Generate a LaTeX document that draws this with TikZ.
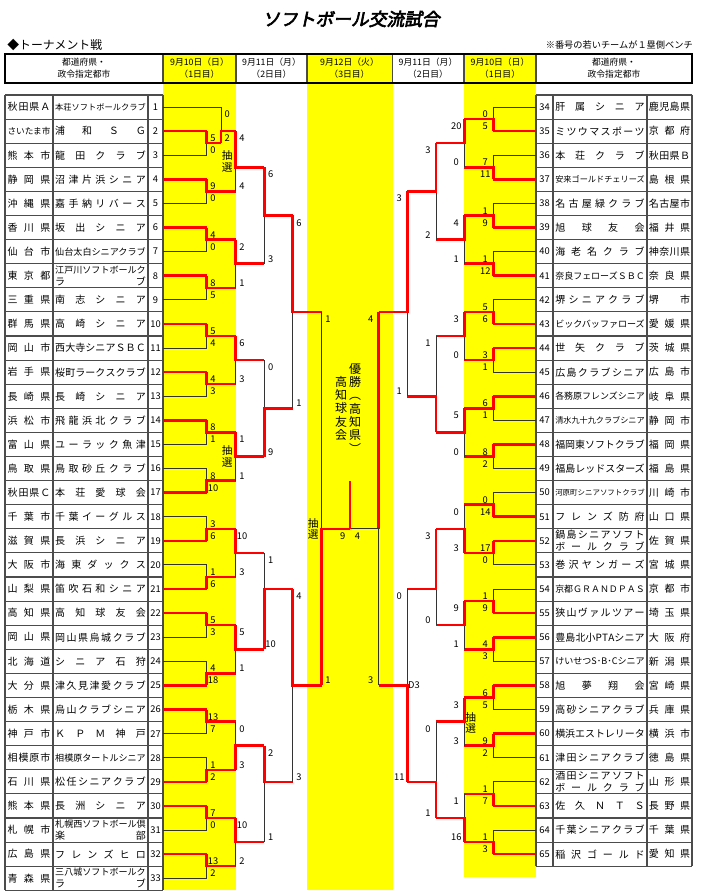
\documentclass[tikz,border=0pt]{standalone}
\usepackage{fontspec}
\usepackage{tikz}
\setmainfont{Noto Sans CJK JP}
\newfontfamily\titlefont[FakeSlant=0.2,FakeBold=3.5]{Noto Sans CJK JP}

\definecolor{dayyellow}{RGB}{255,255,0}
\definecolor{winred}{RGB}{255,0,0}

% spread a cell text over the cell (shrink it when too long)
\ExplSyntaxOn
\box_new:N \l__cell_box
\cs_new_protected:Npn \__cell_spread:nn #1#2
  {
    \hbox_set:Nn \l__cell_box {#2}
    \dim_compare:nNnTF { \box_wd:N \l__cell_box } > {#1}
      {
        \box_resize_to_wd:Nn \l__cell_box {#1}
        \box_use:N \l__cell_box
      }
      {
        \hbox_to_wd:nn {#1}
          { \skip_horizontal:n { 0pt plus -1fil } \tl_map_inline:nn {#2} { \hfil ##1 } }
      }
  }
\cs_generate_variant:Nn \__cell_spread:nn { ne }
\NewDocumentCommand \cellfit { m m m }
  {
    \str_if_eq:eeTF {#3} { - }
      { \__cell_spread:ne {#1} {#2} }
      {
        \vbox:n
          {
            \skip_set:Nn \baselineskip { 9pt }
            \dim_set:Nn \lineskiplimit { -20pt }
            \hbox:n { \__cell_spread:ne {#1} {#2} }
            \hbox:n { \__cell_spread:ne {#1} {#3} }
          }
      }
  }
\ExplSyntaxOff

% bracket columns (x in px)
\newcommand\xLa{206.7}
\newcommand\xLo{221}
\newcommand\xLb{235.7}
\newcommand\xLc{264.3}
\newcommand\xLd{292.7}
\newcommand\xLe{321.7}
\newcommand\xFin{350}
\newcommand\xRe{378.7}
\newcommand\xRd{407.3}
\newcommand\xRc{436}
\newcommand\xRb{464.3}
\newcommand\xRa{493.3}

% one game: x, top in, bottom in, out, next x, winner (t/b), top score, bottom score, name
\newcommand\lbout[9]{%
  \if#6t\draw[lost] (#1,#3) -- (#1,#4);\draw[won] (#1,#2) -- (#1,#4) -- (#5,#4);%
  \else\draw[lost] (#1,#2) -- (#1,#4);\draw[won] (#1,#3) -- (#1,#4) -- (#5,#4);\fi
  \node[score] (#9t) at ({#1+6.3},{#2+0.6}) {#7};
  \node[score] (#9b) at ({#1+6.3},{#3-0.4}) {#8};}
\newcommand\rbout[9]{%
  \if#6t\draw[lost] (#1,#3) -- (#1,#4);\draw[won] (#1,#2) -- (#1,#4) -- (#5,#4);%
  \else\draw[lost] (#1,#2) -- (#1,#4);\draw[won] (#1,#3) -- (#1,#4) -- (#5,#4);\fi
  \node[score] (#9t) at ({#1-8},{#2+0.6}) {#7};
  \node[score] (#9b) at ({#1-8},{#3-0.4}) {#8};}

\begin{document}
\begin{tikzpicture}[
    x=0.75pt, y=-0.75pt,
    lost/.style={draw=black!80, line width=0.7pt},
    won/.style={draw=winred, line width=1.9pt},
    grid/.style={draw=black!70, line width=0.8pt},
    score/.style={font=\fontsize{7}{8}\selectfont, inner sep=0pt},
    numtxt/.style={font=\fontsize{7}{8}\selectfont, inner sep=0pt},
    celltxt/.style={font=\fontsize{7.5}{9}\selectfont, inner sep=0pt},
    lottery/.style={font=\fontsize{8}{8.8}\selectfont, align=center, inner sep=0pt},
    headtxt/.style={font=\fontsize{6.6}{9.2}\selectfont, align=center, inner sep=0pt}
]
\useasboundingbox (0,0) rectangle (700,891);
\fill[white] (0,0) rectangle (700,891);

% Day columns
\fill[dayyellow] (163,54) rectangle (236,890);
\fill[dayyellow] (307,54) rectangle (392.5,890);
\fill[dayyellow] (464,54) rectangle (536,877);

% Title
\node[font=\titlefont\fontsize{13.3}{15}\selectfont] (title) at (351,19) {ソフトボール交流試合};
\node[font=\fontsize{8.9}{10}\selectfont, anchor=west, inner sep=0pt] (kind) at (7,45) {◆トーナメント戦};
\node[font=\fontsize{6.9}{8}\selectfont, anchor=east, inner sep=0pt] (bench) at (693,45) {※番号の若いチームが１塁側ベンチ};

% Header
\foreach \x in {163,236,307,392.5,464,536}
  \draw[grid] (\x,54) -- (\x,83);
\draw[black, line width=1.4pt] (5,54) rectangle (692,83);
\node[headtxt] (h1) at (84,68) {都道府県・\\政令指定都市};
\node[headtxt] (h2) at (199.5,68) {9月10日（日）\\（1日目）};
\node[headtxt] (h3) at (271.5,68) {9月11日（月）\\（2日目）};
\node[headtxt] (h4) at (349.5,68) {9月12日（火）\\（3日目）};
\node[headtxt] (h5) at (428,68) {9月11日（月）\\（2日目）};
\node[headtxt] (h6) at (500,68) {9月10日（日）\\（1日目）};
\node[headtxt] (h7) at (614,68) {都道府県・\\政令指定都市};

\begin{scope}[shift={(0,95)}, y=-9.0375pt]
% Left table
\foreach \n in {0,2,...,66}
  \draw[grid] (5,\n) -- (163,\n);
\foreach \x in {5,53,148,163}
  \draw[grid] (\x,0) -- (\x,66);
\foreach \i/\pf/\nm/\nmb in {1/秋田県Ａ/本荘ソフトボールクラブ/-, 2/さいたま市/浦和ＳＧ/-,
    3/熊本市/龍田クラブ/-, 4/静岡県/沼津片浜シニア/-, 5/沖縄県/嘉手納リバース/-,
    6/香川県/坂出シニア/-, 7/仙台市/仙台太白シニアクラブ/-, 8/東京都/江戸川ソフトボールク/ラブ,
    9/三重県/南志シニア/-, 10/群馬県/高崎シニア/-, 11/岡山市/西大寺シニアＳＢＣ/-,
    12/岩手県/桜町ラークスクラブ/-, 13/長崎県/長崎シニア/-, 14/浜松市/飛龍浜北クラブ/-,
    15/富山県/ユーラック魚津/-, 16/鳥取県/鳥取砂丘クラブ/-, 17/秋田県Ｃ/本荘愛球会/-,
    18/千葉市/千葉イーグルス/-, 19/滋賀県/長浜シニア/-, 20/大阪市/海東ダックス/-,
    21/山梨県/笛吹石和シニア/-, 22/高知県/高知球友会/-, 23/岡山県/岡山県烏城クラブ/-,
    24/北海道/シニア石狩/-, 25/大分県/津久見津愛クラブ/-, 26/栃木県/烏山クラブシニア/-,
    27/神戸市/ＫＰＭ神戸/-, 28/相模原市/相模原タートルシニア/-, 29/石川県/松任シニアクラブ/-,
    30/熊本県/長洲シニア/-, 31/札幌市/札幌西ソフトボール倶/楽部, 32/広島県/フレンズヒロ/-,
    33/青森県/三八城ソフトボールク/ラブ} {
  \node[celltxt] (lp\i) at (29,2*\i-1) {\cellfit{32.2pt}{\pf}{-}};
  \node[celltxt] (ln\i) at (100.5,2*\i-1) {\cellfit{67.9pt}{\nm}{\nmb}};
  \node[numtxt] (lk\i) at (155.5,2*\i-1) {\i};
}

% Right table
\foreach \n in {0,2,...,64}
  \draw[grid] (536,\n) -- (692,\n);
\foreach \x in {536,553,647,692}
  \draw[grid] (\x,0) -- (\x,64);
\foreach \i/\pf/\nm/\nmb in {34/鹿児島県/肝属シニア/-, 35/京都府/ミツウマスポーツ/-,
    36/秋田県Ｂ/本荘クラブ/-, 37/島根県/安来ゴールドチェリーズ/-, 38/名古屋市/名古屋緑クラブ/-,
    39/福井県/旭球友会/-, 40/神奈川県/海老名クラブ/-, 41/奈良県/奈良フェローズＳＢＣ/-,
    42/堺市/堺シニアクラブ/-, 43/愛媛県/ビックバッファローズ/-, 44/茨城県/世矢クラブ/-,
    45/広島市/広島クラブシニア/-, 46/岐阜県/各務原フレンズシニア/-, 47/静岡市/清水九十九クラブシニア/-,
    48/福岡県/福岡東ソフトクラブ/-, 49/福島県/福島レッドスターズ/-, 50/川崎市/河原町シニアソフトクラブ/-,
    51/山口県/フレンズ防府/-, 52/佐賀県/鍋島シニアソフト/ボールクラブ, 53/宮城県/巻沢ヤンガーズ/-,
    54/京都市/京都ＧＲＡＮＤＰＡＳ/-, 55/埼玉県/狭山ヴァルツアー/-, 56/大阪府/豊島北小PTAシニア/-,
    57/新潟県/けいせつS･B･Cシニア/-, 58/宮崎県/旭夢翔会/-, 59/兵庫県/高砂シニアクラブ/-,
    60/横浜市/横浜エストレリータ/-, 61/徳島県/津田シニアクラブ/-, 62/山形県/酒田シニアソフト/ボールクラブ,
    63/長野県/佐久ＮＴＳ/-, 64/千葉県/千葉シニアクラブ/-, 65/愛知県/稲沢ゴールド/-} {
  \node[numtxt] (rk\i) at (544.5,2*\i-67) {\i};
  \node[celltxt] (rn\i) at (600,2*\i-67) {\cellfit{67.1pt}{\nm}{\nmb}};
  \node[celltxt] (rp\i) at (669.5,2*\i-67) {\cellfit{30.8pt}{\pf}{-}};
}

% Team lines
\draw[lost] (163,1) -- (\xLo,1);
\foreach \i in {3,5,7,9,11,13,15,16,18,20,23,24,27,28,31,33}
  \draw[lost] (163,2*\i-1) -- (\xLa,2*\i-1);
\foreach \i in {2,4,6,8,10,12,14,17,19,21,22,25,26,29,30,32}
  \draw[won] (163,2*\i-1) -- (\xLa,2*\i-1);
\foreach \i in {34,36,38,40,42,45,47,49,50,53,54,57,59,61,62,64}
  \draw[lost] (536,2*\i-67) -- (\xRa,2*\i-67);
\foreach \i in {35,37,39,41,43,44,46,48,51,52,55,56,58,60,63,65}
  \draw[won] (536,2*\i-67) -- (\xRa,2*\i-67);

% Left bracket
\lbout{\xLa}{3}{5}{4}{\xLo}{t}{5}{0}{l1}
\lbout{\xLo}{1}{4}{3}{\xLb}{b}{0}{2}{l2}
\lbout{\xLa}{7}{9}{8}{\xLb}{t}{9}{0}{l3}
\lbout{\xLb}{3}{8}{6}{\xLc}{t}{4}{4}{l4}
\lbout{\xLa}{11}{13}{12}{\xLb}{t}{4}{0}{l5}
\lbout{\xLa}{15}{17}{16}{\xLb}{t}{8}{5}{l6}
\lbout{\xLb}{12}{16}{14}{\xLc}{t}{2}{1}{l7}
\lbout{\xLc}{6}{14}{10}{\xLd}{t}{6}{3}{l8}
\lbout{\xLa}{19}{21}{20}{\xLb}{t}{5}{4}{l9}
\lbout{\xLa}{23}{25}{24}{\xLb}{t}{4}{3}{l10}
\lbout{\xLb}{20}{24}{22}{\xLc}{t}{6}{3}{l11}
\lbout{\xLa}{27}{29}{28}{\xLb}{t}{8}{1}{l12}
\lbout{\xLa}{31}{33}{32}{\xLb}{b}{8}{10}{l13}
\lbout{\xLb}{28}{32}{30}{\xLc}{t}{1}{1}{l14}
\lbout{\xLc}{22}{30}{26}{\xLd}{b}{0}{9}{l15}
\lbout{\xLd}{10}{26}{18}{\xLe}{t}{6}{1}{l16}
\lbout{\xLa}{35}{37}{36}{\xLb}{b}{3}{6}{l17}
\lbout{\xLa}{39}{41}{40}{\xLb}{b}{1}{6}{l18}
\lbout{\xLb}{36}{40}{38}{\xLc}{t}{10}{3}{l19}
\lbout{\xLa}{43}{45}{44}{\xLb}{t}{5}{3}{l20}
\lbout{\xLa}{47}{49}{48}{\xLb}{b}{4}{18}{l21}
\lbout{\xLb}{44}{48}{46}{\xLc}{t}{5}{1}{l22}
\lbout{\xLc}{38}{46}{41}{\xLd}{b}{1}{10}{l23}
\lbout{\xLa}{51}{53}{52}{\xLb}{t}{13}{7}{l24}
\lbout{\xLa}{55}{57}{56}{\xLb}{b}{1}{2}{l25}
\lbout{\xLb}{52}{56}{54}{\xLc}{b}{0}{3}{l26}
\lbout{\xLa}{59}{61}{60}{\xLb}{t}{7}{0}{l27}
\lbout{\xLa}{63}{65}{64}{\xLb}{t}{13}{2}{l28}
\lbout{\xLb}{60}{64}{62}{\xLc}{t}{10}{2}{l29}
\lbout{\xLc}{54}{62}{57}{\xLd}{t}{2}{1}{l30}
\lbout{\xLd}{41}{57}{49}{\xLe}{t}{4}{3}{l31}

% Right bracket
\rbout{\xRa}{1}{3}{2}{\xRb}{b}{0}{5}{r1}
\rbout{\xRa}{5}{7}{6}{\xRb}{b}{7}{11}{r2}
\rbout{\xRb}{2}{6}{4}{\xRc}{t}{20}{0}{r3}
\rbout{\xRa}{9}{11}{10}{\xRb}{b}{1}{9}{r4}
\rbout{\xRa}{13}{15}{14}{\xRb}{b}{1}{12}{r5}
\rbout{\xRb}{10}{14}{12}{\xRc}{t}{4}{1}{r6}
\rbout{\xRc}{4}{12}{8}{\xRd}{t}{3}{2}{r7}
\rbout{\xRa}{17}{19}{18}{\xRb}{b}{5}{6}{r8}
\rbout{\xRa}{21}{23}{22}{\xRb}{t}{3}{1}{r9}
\rbout{\xRb}{18}{22}{20}{\xRc}{t}{3}{0}{r10}
\rbout{\xRa}{25}{27}{26}{\xRb}{t}{6}{1}{r11}
\rbout{\xRa}{29}{31}{30}{\xRb}{t}{8}{2}{r12}
\rbout{\xRb}{26}{30}{28}{\xRc}{t}{5}{0}{r13}
\rbout{\xRc}{20}{28}{25}{\xRd}{b}{1}{}{r14}
\rbout{\xRd}{8}{25}{18}{\xRe}{t}{3}{1}{r15}
\rbout{\xRa}{33}{35}{34}{\xRb}{b}{0}{14}{r16}
\rbout{\xRa}{37}{39}{38}{\xRb}{t}{17}{0}{r17}
\rbout{\xRb}{34}{38}{36}{\xRc}{b}{0}{3}{r18}
\rbout{\xRa}{41}{43}{42}{\xRb}{b}{1}{9}{r19}
\rbout{\xRa}{45}{47}{46}{\xRb}{t}{4}{3}{r20}
\rbout{\xRb}{42}{46}{44}{\xRc}{t}{9}{1}{r21}
\rbout{\xRc}{36}{44}{41}{\xRd}{t}{3}{0}{r22}
\rbout{\xRa}{49}{51}{50}{\xRb}{t}{6}{5}{r23}
\rbout{\xRa}{53}{55}{54}{\xRb}{t}{9}{2}{r24}
\rbout{\xRb}{50}{54}{52}{\xRc}{t}{3}{3}{r25}
\rbout{\xRa}{57}{59}{58}{\xRb}{b}{1}{7}{r26}
\rbout{\xRa}{61}{63}{62}{\xRb}{b}{1}{3}{r27}
\rbout{\xRb}{58}{62}{60}{\xRc}{b}{1}{16}{r28}
\rbout{\xRc}{52}{60}{57}{\xRd}{b}{0}{1}{r29}
\rbout{\xRd}{41}{57}{49}{\xRe}{b}{0}{11}{r30}
\node[score] (dthree) at (414,49) {D3};

% Semifinals and final
\rbout{\xRe}{18}{49}{36}{\xRe}{t}{4}{3}{r31}
\draw[lost] (\xRe,36) -- (\xFin,36);
\lbout{\xLe}{18}{49}{36}{\xFin}{b}{1}{1}{l32}
\draw[won] (\xFin,36) -- (\xFin,32);
\node[score, anchor=east] (finL) at (345.5,36.6) {9};
\node[score, anchor=west] (finR) at (354.5,36.6) {4};

% Lotteries
\node[lottery] (lot1) at (227.3,5.5) {抽\\選};
\node[lottery] (lot2) at (227.3,30) {抽\\選};
\node[lottery] (lot3) at (313.3,36) {抽\\選};
\node[lottery] (lot4) at (470.7,52.1) {抽\\選};

% Champion
\node[font=\fontsize{9}{10}\selectfont, align=center, inner sep=0pt] (champ) at (355,26) {優\\勝\\︵\\高\\知\\県\\︶};
\node[font=\fontsize{9}{10}\selectfont, align=center, inner sep=0pt] (champteam) at (341,26) {高\\知\\球\\友\\会};
\end{scope}
\end{tikzpicture}
\end{document}
